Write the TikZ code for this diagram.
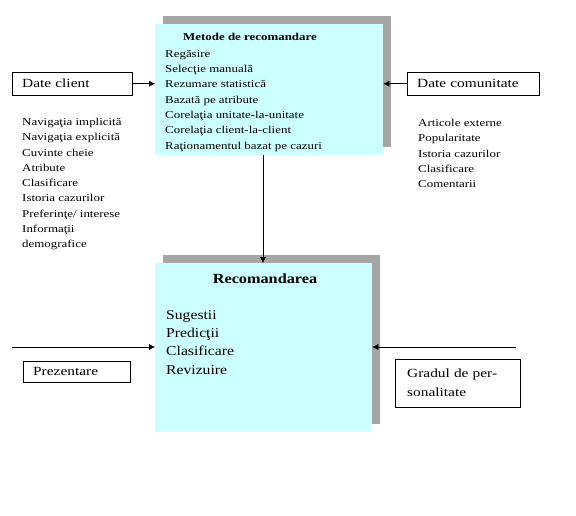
\documentclass[tikz,border=0pt]{standalone}
\usepackage{fontspec}
\setmainfont{Liberation Serif}
\newfontfamily\widefont[FakeStretch=1.23]{Liberation Serif}
\newfontfamily\bigwidefont[FakeStretch=1.16]{Liberation Serif}
\usepackage{tikz}
\usetikzlibrary{arrows.meta, positioning, shadows}
\definecolor{boxcyan}{RGB}{204,255,255}
\definecolor{shadowgray}{RGB}{165,165,165}
\tikzset{
  mainbox/.style={rectangle, fill=boxcyan, anchor=north west, inner sep=0pt,
    drop shadow={shadow xshift=8pt, shadow yshift=8pt, fill=shadowgray, opacity=1}},
  labelbox/.style={rectangle, draw, anchor=north west, align=left,
    inner xsep=10pt, inner ysep=0pt, font=\widefont\fontsize{12.5}{19}\selectfont},
  listtext/.style={anchor=north west, align=left, inner sep=0pt,
    font=\widefont\fontsize{10.5}{15.3}\selectfont},
  bigtext/.style={anchor=north west, align=left, inner sep=0pt,
    font=\bigwidefont\fontsize{13.5}{18.4}\selectfont},
  arrow/.style={-{Latex[length=6pt,width=6pt]}, thin}
}
\begin{document}
\begin{tikzpicture}[x=1pt, y=-1pt]
  \useasboundingbox (0,0) rectangle (576,516);

  % the two central boxes
  \node[mainbox, minimum width=228pt, minimum height=131pt] (metode) at (155,24) {};
  \node[mainbox, minimum width=217pt, minimum height=169pt] (recom) at (155,263) {};

  \node[font=\widefont\fontsize{10.5}{12}\selectfont\bfseries] (metodetitle) at (250,37) {Metode de recomandare};
  \node[listtext] (metodelist) at (165,50) {Regăsire\\Selecţie manuală\\Rezumare statistică\\Bazată pe atribute\\Corelaţia unitate-la-unitate\\Corelaţia client-la-client\\Raţionamentul bazat pe cazuri};

  \node[font=\bigwidefont\fontsize{14}{16}\selectfont\bfseries] (recomtitle) at (265,279) {Recomandarea};
  \node[bigtext] (recomlist) at (166,310) {Sugestii\\Predicţii\\Clasificare\\Revizuire};

  % inputs
  \node[labelbox, minimum width=120pt, minimum height=23pt, text width=100pt] (client) at (12,72) {Date client};
  \node[labelbox, minimum width=132pt, minimum height=23pt, text width=112pt] (comunitate) at (407,72) {Date comunitate};
  \node[labelbox, minimum width=107pt, minimum height=21pt, text width=87pt] (prezentare) at (23,361) {Prezentare};
  \node[labelbox, minimum width=121pt, minimum height=48pt, text width=101pt, inner xsep=12pt] (gradul) at (395,359) {Gradul de per-\\sonalitate};

  \node[listtext] (clientlist) at (22,118) {Navigaţia implicită\\Navigaţia explicită\\Cuvinte cheie\\Atribute\\Clasificare\\Istoria cazurilor\\Preferinţe/ interese\\Informaţii\\demografice};
  \node[listtext] (comlist) at (418,119) {Articole externe\\Popularitate\\Istoria cazurilor\\Clasificare\\Comentarii};

  \coordinate (prezstart) at (12,347);
  \coordinate (gradstart) at (516,347);

  % connectors
  \draw[arrow] (client.east) -- (client.east -| metode.west);
  \draw[arrow] (comunitate.west) -- (comunitate.west -| metode.east);
  \draw[arrow] (metode.south -| 263,0) -- (recom.north -| 263,0);
  \draw[arrow] (prezstart) -- (prezstart -| recom.west);
  \draw[arrow] (gradstart) -- (gradstart -| recom.east);
\end{tikzpicture}
\end{document}
